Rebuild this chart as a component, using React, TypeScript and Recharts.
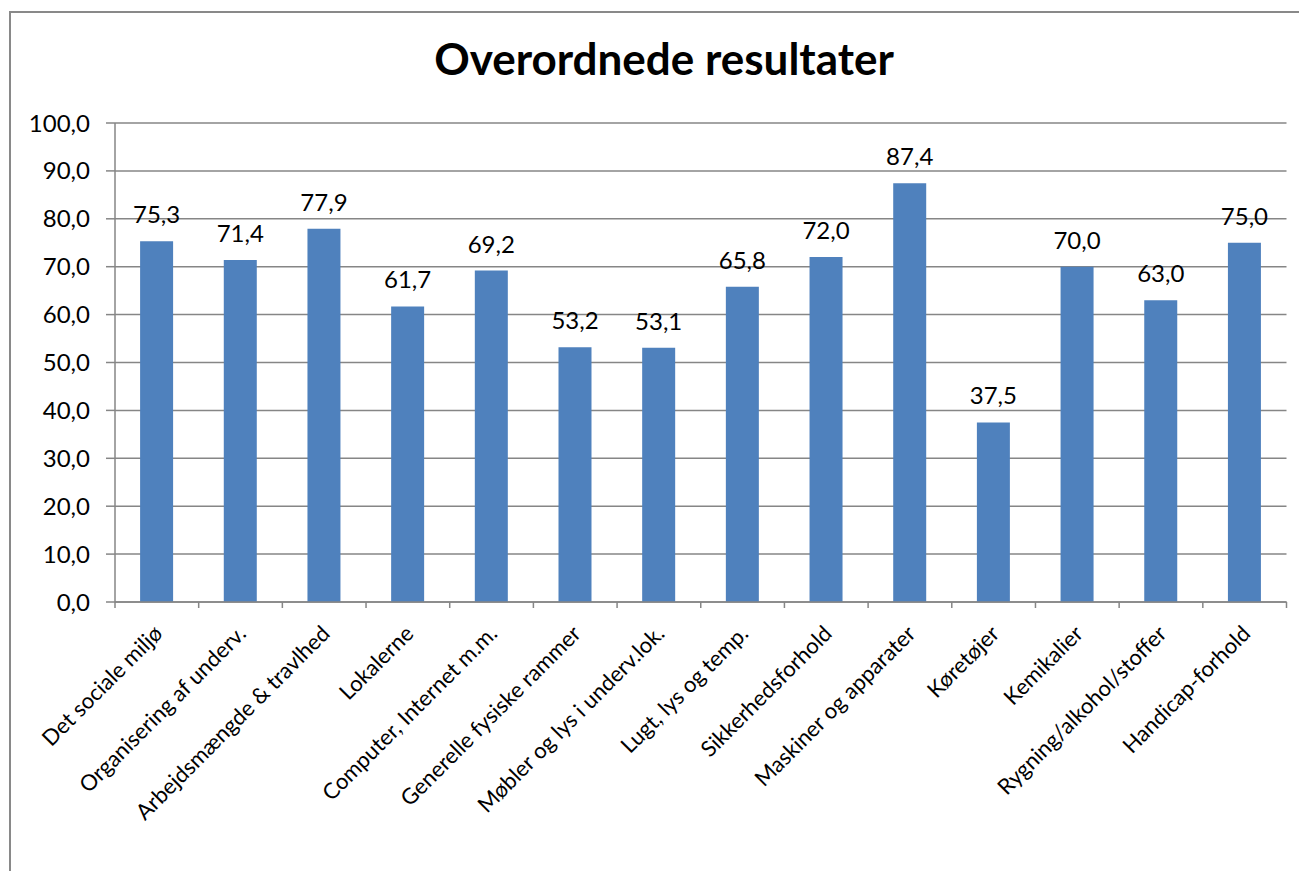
import React from 'react';
import { BarChart, Bar, XAxis, YAxis, CartesianGrid, LabelList } from 'recharts';

const categories = [
  'Det sociale miljø',
  'Organisering af underv.',
  'Arbejdsmængde & travlhed',
  'Lokalerne',
  'Computer, Internet m.m.',
  'Generelle fysiske rammer',
  'Møbler og lys i underv.lok.',
  'Lugt, lys og temp.',
  'Sikkerhedsforhold',
  'Maskiner og apparater',
  'Køretøjer',
  'Kemikalier',
  'Rygning/alkohol/stoffer',
  'Handicap-forhold',
];
const values = [75.3, 71.4, 77.9, 61.7, 69.2, 53.2, 53.1, 65.8, 72.0, 87.4, 37.5, 70.0, 63.0, 75.0];
const yTicks = [0, 10, 20, 30, 40, 50, 60, 70, 80, 90, 100];
const title = 'Overordnede resultater';

const data = categories.map((name, i) => ({ name, value: values[i] }));

const FONT = 'Lato, "Open Sans", sans-serif';
const AXIS_COLOR = '#868686';
const BAR_COLOR = '#4F81BD';

const CHART_W = 1288;
const CHART_H = 855;
const M_TOP = 110;
const M_RIGHT = 12.5;
const Y_W = 104;
const X_H = 266;
const PLOT_W = CHART_W - Y_W - M_RIGHT;
const CAT_W = PLOT_W / categories.length;

const fmt = (v: number) => v.toFixed(1).replace('.', ',');

const XTick = (props: any) => {
  const { x, y, payload, index } = props;
  const axisY = y - 6;
  const left = x - CAT_W / 2;
  const isLast = index === categories.length - 1;
  const tx = x + 7;
  const ty = axisY + 33;
  return (
    <g>
      <line x1={left} y1={axisY} x2={left} y2={axisY + 6} stroke={AXIS_COLOR} strokeWidth={1.5} />
      {isLast && (
        <line x1={x + CAT_W / 2} y1={axisY} x2={x + CAT_W / 2} y2={axisY + 6} stroke={AXIS_COLOR} strokeWidth={1.5} />
      )}
      <text
        x={tx}
        y={ty}
        transform={`rotate(-45, ${tx}, ${ty})`}
        textAnchor="end"
        fontFamily={FONT}
        fontSize={22}
        fill="#000"
      >
        {payload.value}
      </text>
    </g>
  );
};

export default function App() {
  return (
    <div
      style={{
        position: 'absolute',
        left: 9,
        top: 11,
        width: 1290,
        height: 860,
        boxSizing: 'border-box',
        borderTop: '2px solid #898989',
        borderLeft: '2px solid #898989',
        overflow: 'hidden',
        background: '#fff',
      }}
    >
      <div
        style={{
          position: 'absolute',
          left: 0,
          top: 20,
          width: 1306,
          textAlign: 'center',
          fontFamily: FONT,
          fontWeight: 700,
          fontSize: 44,
          lineHeight: '50px',
          color: '#000',
        }}
      >
        {title}
      </div>
      <BarChart
        width={CHART_W}
        height={CHART_H}
        data={data}
        margin={{ top: M_TOP, right: M_RIGHT, left: 0, bottom: 0 }}
        barCategoryGap="30%"
      >
        <CartesianGrid horizontal vertical={false} stroke={AXIS_COLOR} strokeWidth={1.5} />
        <YAxis
          domain={[0, 100]}
          ticks={yTicks}
          interval={0}
          width={Y_W}
          tickFormatter={fmt}
          axisLine={{ stroke: AXIS_COLOR, strokeWidth: 1.5 }}
          tickLine={{ stroke: AXIS_COLOR, strokeWidth: 1.5 }}
          tickSize={9}
          tickMargin={16}
          tick={{ fill: '#000', fontFamily: FONT, fontSize: 24 }}
        />
        <XAxis
          dataKey="name"
          interval={0}
          height={X_H}
          axisLine={{ stroke: AXIS_COLOR, strokeWidth: 1.5 }}
          tickLine={false}
          tickSize={6}
          tickMargin={0}
          tick={<XTick />}
        />
        <Bar dataKey="value" fill={BAR_COLOR} isAnimationActive={false}>
          <LabelList
            dataKey="value"
            position="top"
            offset={18}
            formatter={(v: any) => fmt(Number(v))}
            fill="#000"
            fontFamily={FONT}
            fontSize={24}
          />
        </Bar>
      </BarChart>
    </div>
  );
}
